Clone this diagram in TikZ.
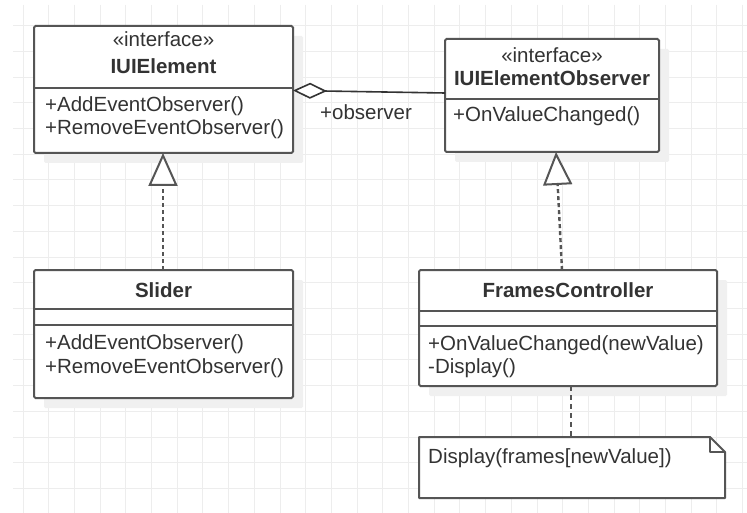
\documentclass[tikz,border=0pt]{standalone}
\usepackage{fontspec}
\setmainfont{Liberation Sans}
\usetikzlibrary{arrows.meta,shadows}
\definecolor{gridc}{HTML}{EDEDED}
\definecolor{linec}{HTML}{555555}
\definecolor{textc}{HTML}{333333}
\definecolor{shadowc}{HTML}{F0F0F0}
\begin{document}
\begin{tikzpicture}[x=1pt,y=-1pt,
  gridline/.style={draw=gridc, line width=1pt},
  umlbox/.style={draw=linec, line width=2pt, fill=white, rounded corners=1.5pt,
    inner sep=0pt, outer sep=0pt, anchor=north west,
    drop shadow={shadow xshift=10pt, shadow yshift=-10pt, fill=shadowc, opacity=1}},
  divider/.style={draw=linec, line width=2pt},
  txt/.style={font=\fontsize{20.5}{23}\selectfont, text=textc, inner sep=0pt, anchor=base west},
  stereo/.style={font=\fontsize{20.5}{23}\selectfont, text=textc, inner sep=0pt, anchor=base},
  ctitle/.style={font=\fontsize{20.5}{23}\selectfont\bfseries, text=textc, inner sep=0pt, anchor=base},
  realize/.style={draw=linec, line width=2.4pt, dash pattern=on 4pt off 3pt,
    -{Triangle[open, length=33pt, width=29pt, line width=2pt, fill=white]}},
  agg/.style={draw=textc, line width=1.6pt,
    -{Diamond[open, length=34pt, width=16pt, line width=1.6pt, fill=white]}},
  notelink/.style={draw=linec, line width=2pt, dash pattern=on 5pt off 4pt},
]
\useasboundingbox[fill=white] (0,0) rectangle (747,513);

% background grid
\foreach \i in {0,...,28} { \draw[gridline] (23+25.7*\i,5) -- (23+25.7*\i,513); }
\foreach \j in {0,...,18} { \draw[gridline] (13,25.8+25.7*\j) -- (747,25.8+25.7*\j); }

% IUIElement
\node[umlbox, minimum width=259pt, minimum height=127pt] (iui) at (34,26) {};
\draw[divider] (iui.west |- 0,88) -- (iui.east |- 0,88);
\node[stereo] (iuiS) at (163.5,47) {«interface»};
\node[ctitle] (iuiT) at (163.5,74) {IUIElement};
\node[txt] (iuiM1) at (45,112) {+AddEventObserver()};
\node[txt] (iuiM2) at (45,135) {+RemoveEventObserver()};

% IUIElementObserver
\node[umlbox, minimum width=214pt, minimum height=113pt] (obs) at (445,39) {};
\draw[divider] (obs.west |- 0,99) -- (obs.east |- 0,99);
\node[stereo] (obsS) at (552,63) {«interface»};
\node[ctitle] (obsT) at (552,86) {IUIElementObserver};
\node[txt] (obsM1) at (453,122) {+OnValueChanged()};

% Slider
\node[umlbox, minimum width=259pt, minimum height=128pt] (slider) at (34,270) {};
\draw[divider] (slider.west |- 0,309) -- (slider.east |- 0,309);
\draw[divider] (slider.west |- 0,325) -- (slider.east |- 0,325);
\node[ctitle] (sliderT) at (163.5,297) {Slider};
\node[txt] (sliderM1) at (45,349) {+AddEventObserver()};
\node[txt] (sliderM2) at (45,373) {+RemoveEventObserver()};

% FramesController
\node[umlbox, minimum width=298pt, minimum height=116pt] (fc) at (419,270) {};
\draw[divider] (fc.west |- 0,311) -- (fc.east |- 0,311);
\draw[divider] (fc.west |- 0,326) -- (fc.east |- 0,326);
\node[ctitle] (fcT) at (568,297) {FramesController};
\node[txt] (fcM1) at (428,350) {+OnValueChanged(newValue)};
\node[txt] (fcM2) at (428,373) {-Display()};

% note with folded corner
\node[inner sep=0pt, outer sep=0pt, anchor=north west, minimum width=306pt, minimum height=61pt] (note) at (419,437) {};
\draw[draw=linec, line width=2pt, fill=white, line join=round]
  (note.north west) -- ([xshift=-15pt]note.north east) -- ([yshift=-15pt]note.north east)
  -- (note.south east) -- (note.south west) -- cycle;
\draw[draw=linec, line width=2pt, line join=round]
  ([xshift=-15pt]note.north east) -- ([xshift=-15pt,yshift=-15pt]note.north east) -- ([yshift=-15pt]note.north east);
\node[txt] (noteT) at (428,463) {Display(frames[newValue])};

% connectors
\draw[agg] (obs.west |- 0,93) -- (iui.east |- 0,90.5);
\node[txt] (aggL) at (320,120) {+observer};
\draw[realize] (slider.north -| 163,0) -- (iui.south -| 163,0);
\draw[realize] (fc.north -| 562,0) -- (obs.south -| 556,0);
\draw[notelink] (fc.south -| 571,0) -- (note.north -| 571,0);
\end{tikzpicture}
\end{document}
